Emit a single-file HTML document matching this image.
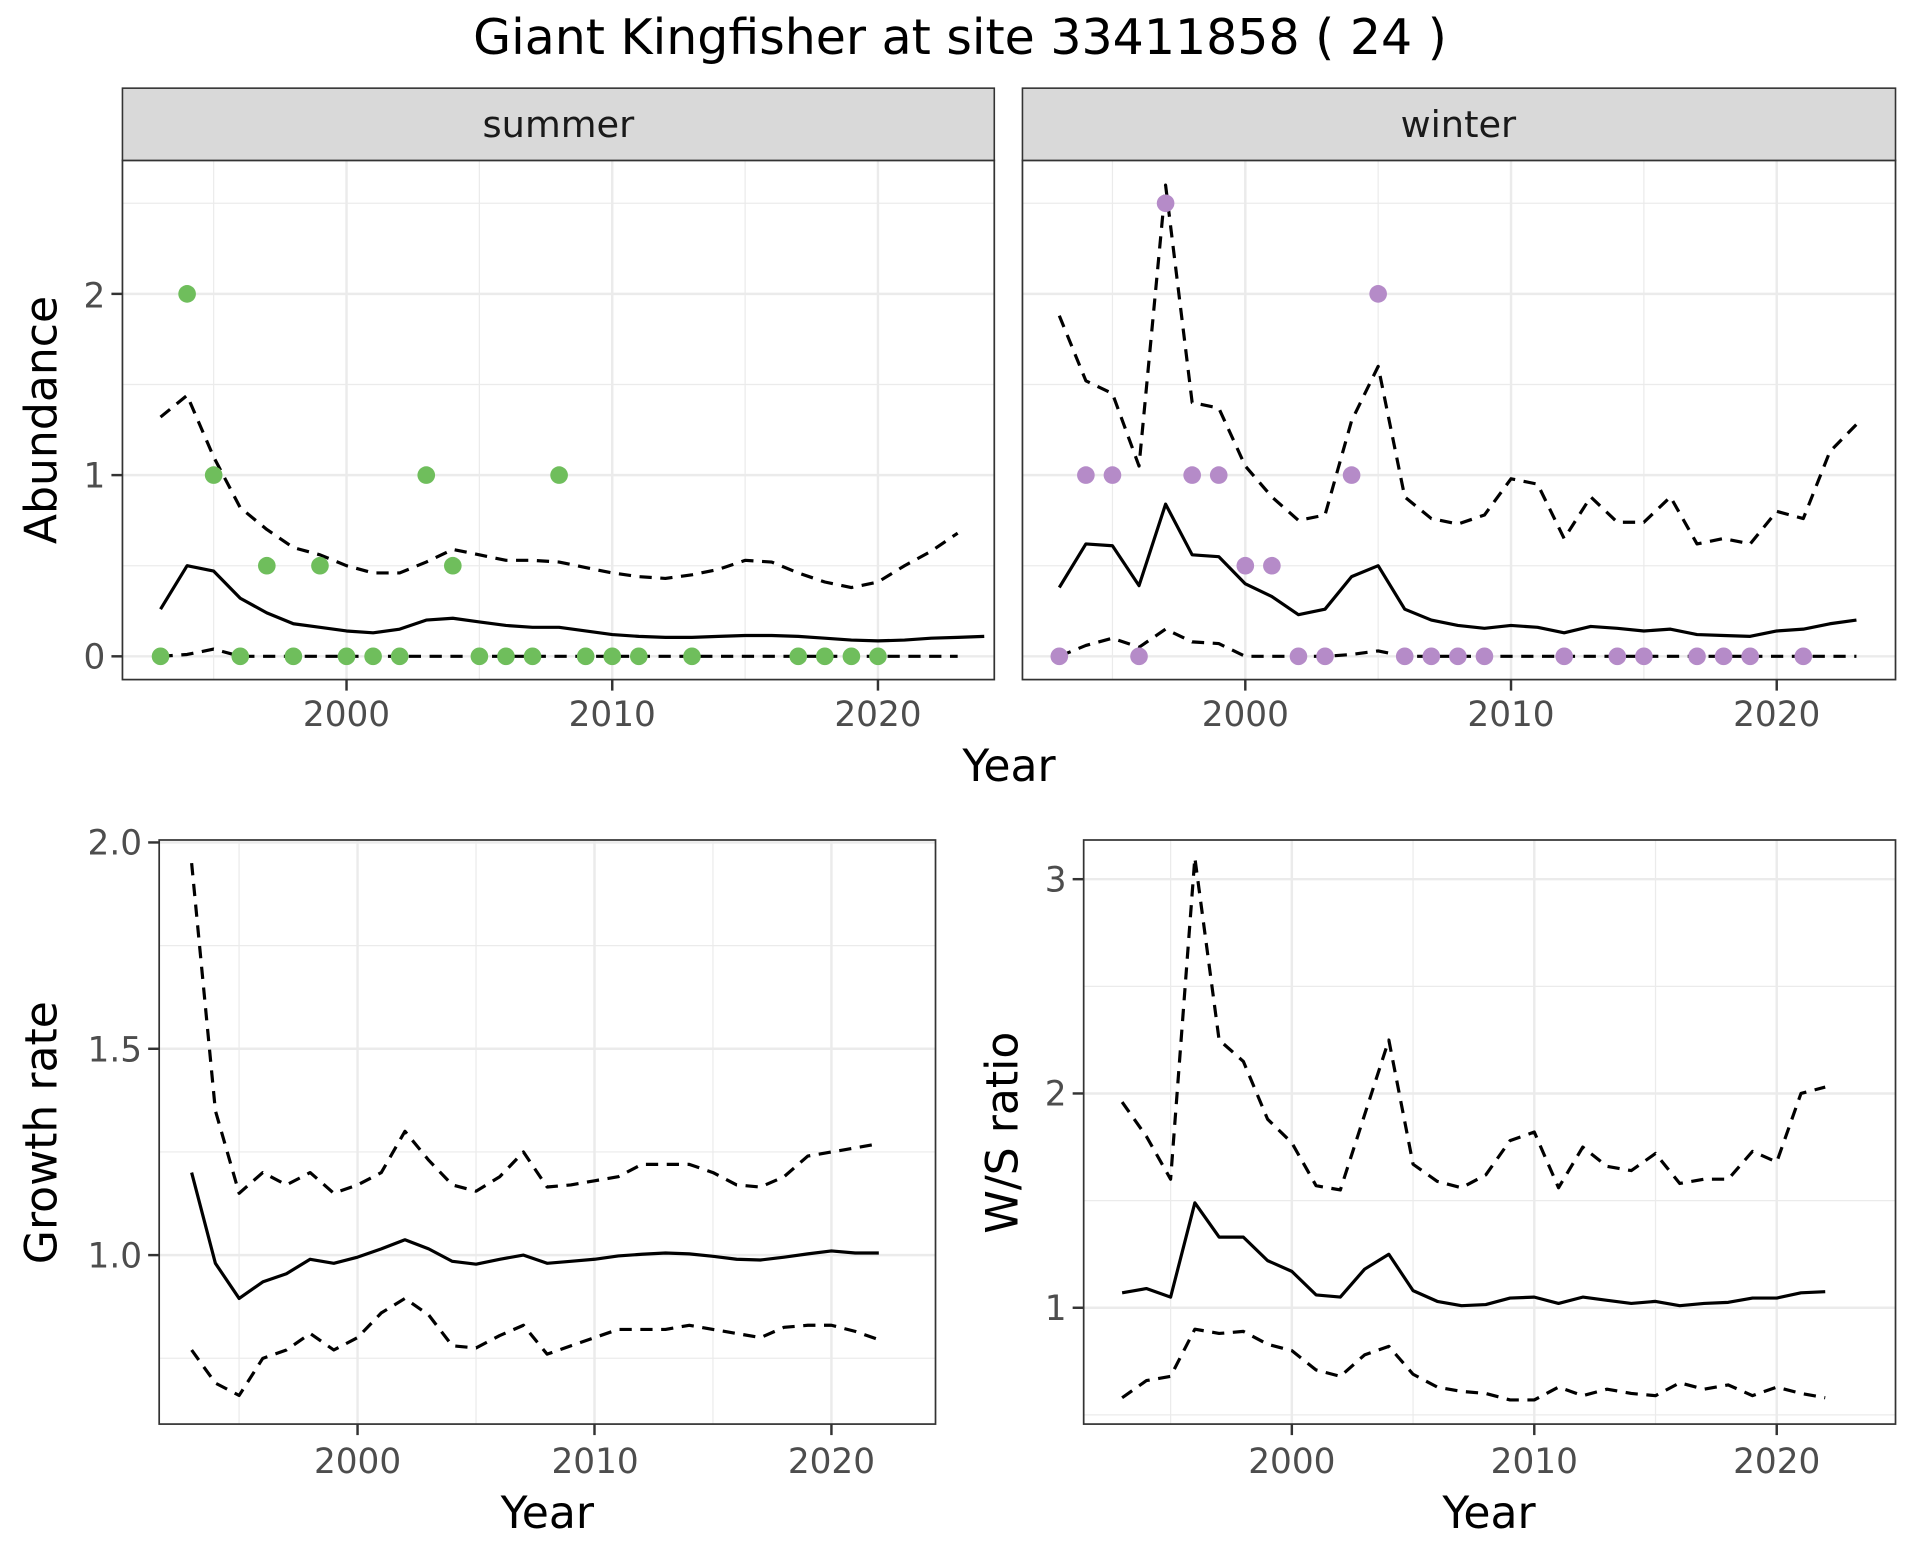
<!DOCTYPE html>
<html><head><meta charset="utf-8"><style>
html,body{margin:0;padding:0;background:#fff;}
svg{display:block;}
text{font-family:"DejaVu Sans","Liberation Sans",sans-serif;}
.tk{font-size:28px;fill:#4d4d4d;}
.at{font-size:36px;fill:#000;}
</style></head><body>
<svg id="s" width="1920" height="1560" viewBox="0 0 1568 1274" preserveAspectRatio="none" xmlns="http://www.w3.org/2000/svg">
<rect width="1568" height="1274" fill="#fff"/>
<text x="784" y="44" font-size="40" text-anchor="middle">Giant Kingfisher at site 33411858 ( 24 )</text>
<g id="g"></g>
<!-- strips -->
<rect x="100" y="72" width="712" height="59" fill="#d9d9d9" stroke="#333" stroke-width="1.3"/>
<rect x="835" y="72" width="713" height="59" fill="#d9d9d9" stroke="#333" stroke-width="1.3"/>
<text x="456" y="112" font-size="30" fill="#1a1a1a" text-anchor="middle">summer</text>
<text x="1191" y="112" font-size="30" fill="#1a1a1a" text-anchor="middle">winter</text>
<!-- top tick labels -->
<text class="tk" x="86" y="546" text-anchor="end">0</text>
<text class="tk" x="86" y="398" text-anchor="end">1</text>
<text class="tk" x="86" y="251" text-anchor="end">2</text>
<text class="tk" x="283" y="593" text-anchor="middle">2000</text>
<text class="tk" x="500" y="593" text-anchor="middle">2010</text>
<text class="tk" x="717" y="593" text-anchor="middle">2020</text>
<text class="tk" x="1017" y="593" text-anchor="middle">2000</text>
<text class="tk" x="1234" y="593" text-anchor="middle">2010</text>
<text class="tk" x="1451" y="593" text-anchor="middle">2020</text>
<text class="at" x="824" y="638" text-anchor="middle">Year</text>
<text class="at" x="46" y="343" text-anchor="middle" transform="rotate(-90 46 343)">Abundance</text>
<!-- bottom left labels -->
<text class="tk" x="116" y="698" text-anchor="end">2.0</text>
<text class="tk" x="116" y="867" text-anchor="end">1.5</text>
<text class="tk" x="116" y="1035" text-anchor="end">1.0</text>
<text class="tk" x="292" y="1203" text-anchor="middle">2000</text>
<text class="tk" x="486" y="1203" text-anchor="middle">2010</text>
<text class="tk" x="679" y="1203" text-anchor="middle">2020</text>
<text class="at" x="447" y="1248" text-anchor="middle">Year</text>
<text class="at" x="46" y="925" text-anchor="middle" transform="rotate(-90 46 925)">Growth rate</text>
<!-- bottom right labels -->
<text class="tk" x="871" y="728" text-anchor="end">3</text>
<text class="tk" x="871" y="903" text-anchor="end">2</text>
<text class="tk" x="871" y="1078" text-anchor="end">1</text>
<text class="tk" x="1055" y="1203" text-anchor="middle">2000</text>
<text class="tk" x="1253" y="1203" text-anchor="middle">2010</text>
<text class="tk" x="1451" y="1203" text-anchor="middle">2020</text>
<text class="at" x="1216" y="1248" text-anchor="middle">Year</text>
<text class="at" x="831" y="925" text-anchor="middle" transform="rotate(-90 831 925)">W/S ratio</text>
</svg>
<script>
var NS="http://www.w3.org/2000/svg",G=document.getElementById("g");
function el(t,a){var e=document.createElementNS(NS,t);for(var k in a)e.setAttribute(k,a[k]);G.appendChild(e);return e;}
function panel(p){
 el("rect",{x:p.x0,y:p.y0,width:p.x1-p.x0,height:p.y1-p.y0,fill:"#fff"});
 p.ymin.forEach(function(v){var y=p.yf(v);el("line",{x1:p.x0,x2:p.x1,y1:y,y2:y,stroke:"#ebebeb","stroke-width":1});});
 p.xmin.forEach(function(v){var x=p.xf(v);el("line",{x1:x,x2:x,y1:p.y0,y2:p.y1,stroke:"#ebebeb","stroke-width":1});});
 p.ymaj.forEach(function(v){var y=p.yf(v);el("line",{x1:p.x0,x2:p.x1,y1:y,y2:y,stroke:"#ebebeb","stroke-width":2});});
 p.xmaj.forEach(function(v){var x=p.xf(v);el("line",{x1:x,x2:x,y1:p.y0,y2:p.y1,stroke:"#ebebeb","stroke-width":2});});
 if(p.yt)p.ymaj.forEach(function(v){var y=p.yf(v);el("line",{x1:p.x0-9,x2:p.x0,y1:y,y2:y,stroke:"#333","stroke-width":2});});
 p.xmaj.forEach(function(v){var x=p.xf(v);el("line",{x1:x,x2:x,y1:p.y1,y2:p.y1+9,stroke:"#333","stroke-width":2});});
}
function line(p,y0,vals,dash){var d="";vals.forEach(function(v,i){d+=(i?"L":"M")+p.xf(y0+i).toFixed(1)+","+p.yf(v).toFixed(1);});
 var a={d:d,fill:"none",stroke:"#000","stroke-width":2.6,"stroke-linejoin":"round"};if(dash)a["stroke-dasharray"]="10,7";el("path",a);}
function pts(p,arr,col){arr.forEach(function(q){el("circle",{cx:p.xf(q[0]),cy:p.yf(q[1]),r:7.2,fill:col});});}
function border(p){el("rect",{x:p.x0,y:p.y0,width:p.x1-p.x0,height:p.y1-p.y0,fill:"none",stroke:"#333","stroke-width":1.4});}

var S={x0:100,x1:812,y0:131,y1:555,xf:function(y){return 283+(y-2000)*21.7},yf:function(v){return 536-v*148},ymaj:[0,1,2],ymin:[0.5,1.5,2.5],xmaj:[2000,2010,2020],xmin:[1995,2005,2015],yt:1};
var W={x0:835,x1:1548,y0:131,y1:555,xf:function(y){return 1017+(y-2000)*21.7},yf:function(v){return 536-v*148},ymaj:[0,1,2],ymin:[0.5,1.5,2.5],xmaj:[2000,2010,2020],xmin:[1995,2005,2015],yt:0};
var L={x0:130,x1:764,y0:686,y1:1163,xf:function(y){return 292+(y-2000)*19.35},yf:function(v){return 1025-(v-1)*337},ymaj:[1,1.5,2],ymin:[0.75,1.25,1.75],xmaj:[2000,2010,2020],xmin:[1995,2005,2015],yt:1};
var R={x0:885,x1:1548,y0:686,y1:1163,xf:function(y){return 1055+(y-2000)*19.8},yf:function(v){return 1068-(v-1)*175},ymaj:[1,2,3],ymin:[0.5,1.5,2.5],xmaj:[2000,2010,2020],xmin:[1995,2005,2015],yt:1};
[S,W,L,R].forEach(panel);

line(S,1993,[0.26,0.5,0.47,0.32,0.24,0.18,0.16,0.14,0.13,0.15,0.2,0.21,0.19,0.17,0.16,0.16,0.14,0.12,0.11,0.105,0.105,0.11,0.115,0.115,0.11,0.1,0.09,0.085,0.09,0.1,0.105,0.11]);
line(S,1993,[1.32,1.44,1.1,0.82,0.7,0.6,0.56,0.5,0.46,0.46,0.52,0.59,0.56,0.53,0.53,0.52,0.49,0.46,0.44,0.43,0.45,0.48,0.53,0.52,0.46,0.41,0.38,0.41,0.5,0.58,0.68],1);
line(S,1993,[0,0.01,0.04,0,0,0,0,0,0,0,0,0,0,0,0,0,0,0,0,0,0,0,0,0,0,0,0,0,0,0,0],1);
pts(S,[[1993,0],[1994,2],[1995,1],[1996,0],[1997,.5],[1998,0],[1999,.5],[2000,0],[2001,0],[2002,0],[2003,1],[2004,.5],[2005,0],[2006,0],[2007,0],[2008,1],[2009,0],[2010,0],[2011,0],[2013,0],[2017,0],[2018,0],[2019,0],[2020,0]],"#6fbe5c");
line(W,1993,[0.38,0.62,0.61,0.39,0.84,0.56,0.55,0.4,0.33,0.23,0.26,0.44,0.5,0.26,0.2,0.17,0.155,0.17,0.16,0.13,0.165,0.155,0.14,0.15,0.12,0.115,0.11,0.14,0.15,0.18,0.2]);
line(W,1993,[1.88,1.52,1.45,1.05,2.6,1.4,1.37,1.05,0.88,0.75,0.78,1.3,1.6,0.88,0.76,0.73,0.78,0.98,0.95,0.65,0.88,0.74,0.74,0.88,0.62,0.65,0.62,0.8,0.76,1.13,1.28],1);
line(W,1993,[0,0.06,0.1,0.05,0.15,0.08,0.07,0,0,0,0,0.01,0.03,0,0,0,0,0,0,0,0,0,0,0,0,0,0,0,0,0,0],1);
pts(W,[[1993,0],[1994,1],[1995,1],[1996,0],[1997,2.5],[1998,1],[1999,1],[2000,.5],[2001,.5],[2002,0],[2003,0],[2004,1],[2005,2],[2006,0],[2007,0],[2008,0],[2009,0],[2012,0],[2014,0],[2015,0],[2017,0],[2018,0],[2019,0],[2021,0]],"#b58bc8");
line(L,1993,[1.2,0.98,0.895,0.935,0.955,0.99,0.98,0.995,1.015,1.037,1.015,0.985,0.978,0.99,1.0,0.98,0.985,0.99,0.998,1.002,1.005,1.003,0.997,0.99,0.988,0.995,1.003,1.01,1.005,1.005]);
line(L,1993,[1.95,1.35,1.15,1.2,1.17,1.2,1.15,1.17,1.2,1.3,1.23,1.17,1.155,1.19,1.25,1.165,1.17,1.18,1.19,1.22,1.22,1.22,1.2,1.17,1.165,1.19,1.24,1.25,1.26,1.27],1);
line(L,1993,[0.77,0.69,0.66,0.75,0.77,0.81,0.77,0.8,0.86,0.895,0.855,0.78,0.775,0.805,0.83,0.76,0.78,0.8,0.82,0.82,0.82,0.83,0.82,0.81,0.8,0.825,0.83,0.83,0.815,0.795],1);
line(R,1993,[1.07,1.09,1.05,1.49,1.33,1.33,1.22,1.17,1.06,1.05,1.18,1.25,1.08,1.03,1.01,1.015,1.045,1.05,1.02,1.05,1.035,1.02,1.03,1.01,1.02,1.025,1.045,1.045,1.07,1.075]);
line(R,1993,[1.96,1.8,1.6,3.1,2.25,2.15,1.88,1.77,1.57,1.55,1.9,2.25,1.67,1.59,1.56,1.62,1.78,1.82,1.56,1.75,1.66,1.64,1.72,1.58,1.6,1.6,1.73,1.68,2.0,2.03],1);
line(R,1993,[0.58,0.66,0.68,0.9,0.88,0.89,0.83,0.8,0.71,0.68,0.78,0.82,0.69,0.63,0.61,0.6,0.57,0.57,0.63,0.59,0.62,0.6,0.59,0.65,0.62,0.64,0.59,0.63,0.6,0.58],1);
border(S);border(W);border(L);border(R);
</script>
</body></html>
